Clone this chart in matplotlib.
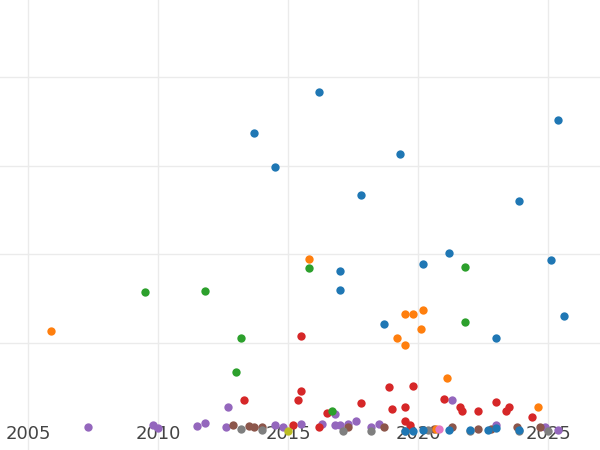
import matplotlib.pyplot as plt

# Data (year, value) ...................................
blue_x = [2016.2, 2013.7, 2014.5, 2019.3, 2017.8, 2025.4, 2023.9, 2021.2, 2020.2, 2017.0, 2017.0,
          2025.1, 2025.6, 2018.7, 2023.0, 2019.5, 2019.8, 2020.2, 2021.2, 2022.0, 2022.7, 2023.0, 2023.9]
blue_y = [3.83, 3.37, 2.98, 3.13, 2.67, 3.51, 2.60, 2.01, 1.89, 1.81, 1.60,
          1.94, 1.30, 1.21, 1.05, 0.01, 0.01, 0.02, 0.02, 0.02, 0.02, 0.04, 0.02]
orange_x = [2005.9, 2015.8, 2019.5, 2019.8, 2020.2, 2020.1, 2019.2, 2019.5, 2021.1, 2024.6, 2020.7]
orange_y = [1.13, 1.95, 1.33, 1.33, 1.37, 1.16, 1.06, 0.98, 0.60, 0.27, 0.03]
green_x = [2009.5, 2011.8, 2015.8, 2021.8, 2021.8, 2013.2, 2013.0, 2016.7]
green_y = [1.57, 1.58, 1.85, 1.86, 1.23, 1.05, 0.67, 0.23]
red_x = [2015.5, 2013.3, 2015.5, 2015.4, 2017.8, 2016.5, 2018.9, 2019.8, 2019.0, 2019.5, 2019.5,
         2021.0, 2021.6, 2021.7, 2022.3, 2023.0, 2023.5, 2023.4, 2024.4, 2015.2, 2016.2, 2019.7]
red_y = [1.08, 0.36, 0.46, 0.35, 0.32, 0.21, 0.50, 0.51, 0.25, 0.27, 0.12,
         0.37, 0.27, 0.23, 0.23, 0.33, 0.28, 0.23, 0.16, 0.07, 0.05, 0.07]
purple_x = [2007.3, 2009.8, 2010.0, 2011.5, 2011.8, 2012.7, 2012.6, 2014.5, 2014.8, 2015.5, 2016.3,
            2016.8, 2016.8, 2017.0, 2017.3, 2017.6, 2018.5, 2021.3, 2023.0, 2024.9, 2025.4, 2018.2]
purple_y = [0.05, 0.07, 0.04, 0.06, 0.09, 0.28, 0.05, 0.07, 0.05, 0.08, 0.08,
            0.07, 0.20, 0.07, 0.08, 0.12, 0.08, 0.35, 0.07, 0.05, 0.02, 0.05]
brown_x = [2012.9, 2013.5, 2013.7, 2014.0, 2017.3, 2018.7, 2020.6, 2021.3, 2022.3, 2022.8, 2023.8, 2024.7]
brown_y = [0.07, 0.06, 0.05, 0.05, 0.05, 0.05, 0.03, 0.05, 0.03, 0.03, 0.05, 0.05]
pink_x = [2020.8]
pink_y = [0.03]
gray_x = [2013.2, 2014.0, 2017.1, 2018.2, 2019.5, 2020.4, 2022.0, 2023.9, 2025.0]
gray_y = [0.03, 0.02, 0.01, 0.01, 0.01, 0.02, 0.01, 0.01, 0.01]
olive_x = [2015.0]
olive_y = [0.01]

series = [
    (purple_x, purple_y, "#9467bd"),
    (brown_x, brown_y, "#8c564b"),
    (gray_x, gray_y, "#7f7f7f"),
    (red_x, red_y, "#d62728"),
    (green_x, green_y, "#2ca02c"),
    (orange_x, orange_y, "#ff7f0e"),
    (blue_x, blue_y, "#1f77b4"),
    (pink_x, pink_y, "#e377c2"),
    (olive_x, olive_y, "#bcbd22"),
]

# Plot ........................................................................
fig = plt.figure(figsize=(6, 4.5), dpi=100)
ax = fig.add_axes([0, 0, 1, 1])
for xs, ys, c in series:
    ax.scatter(xs, ys, s=36, color=c, zorder=3, linewidths=0)

ax.set_xlim(2003.92, 2027.0)
ax.set_ylim(-0.21, 4.87)
ax.set_xticks([2005, 2010, 2015, 2020, 2025])
ax.set_yticks([1, 2, 3, 4])
ax.set_yticklabels([])
ax.grid(color="#ebebeb", linewidth=1, zorder=0)
for s in ax.spines.values():
    s.set_visible(False)
ax.tick_params(axis="both", length=0)
ax.tick_params(axis="x", pad=-18, labelsize=13, labelcolor="#444444")

fig.savefig("out.png", dpi=100)
